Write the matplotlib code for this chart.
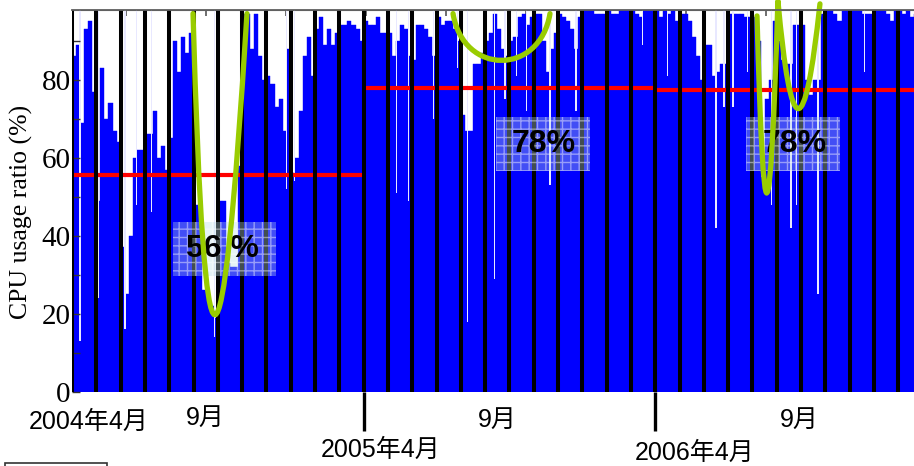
import matplotlib
matplotlib.use('Agg')
import matplotlib.pyplot as plt
import matplotlib.transforms as mtransforms
from matplotlib.path import Path
from matplotlib.patches import PathPatch, Rectangle

# ---------------- data (CPU usage %, six samples per month) ----------------
usage_fy2004 = [
    86, 89, 69, 93, 95, 77,   # 2004-04
    49, 83, 70, 74, 67, 64,   # 05
    37, 25, 40, 60, 62, 62,   # 06
    66, 66, 72, 60, 63, 57,   # 07
    65, 90, 82, 91, 87, 92,   # 08
    48, 48, 26, 25, 22, 19,   # 09
    49, 49, 33, 32, 32, 58,   # 10
    97, 97, 88, 97, 86, 80,   # 11
    81, 79, 73, 75, 67, 88,   # 12
    56, 60, 72, 86, 91, 81,   # 2005-01
    93, 96, 89, 93, 89, 92,   # 02
    94, 94, 95, 94, 93, 90,   # 03
]
usage_fy2005 = [
    95, 94, 94, 96, 92, 92,   # 2005-04
    92, 86, 90, 94, 93, 86,   # 05
    85, 94, 94, 93, 91, 86,   # 06
    96, 94, 95, 95, 93, 90,   # 07
    71, 67, 67, 84, 84, 87,   # 08
    90, 92, 97, 93, 88, 86,   # 09
    90, 91, 96, 97, 94, 96,   # 10
    97, 97, 90, 82, 88, 92,   # 11
    97, 96, 95, 93, 88, 96,   # 12
    98, 98, 98, 97, 97, 97,   # 2006-01
    98, 97, 97, 98, 98, 98,   # 02
    98, 97, 96, 98, 98, 98,   # 03
]
usage_fy2006 = [
    98, 96, 98, 97, 98, 95,   # 2006-04
    97, 97, 95, 91, 86, 80,   # 05
    89, 89, 81, 82, 84, 84,   # 06
    97, 97, 97, 97, 96, 96,   # 07
    96, 90, 55, 75, 80, 95,   # 08
    90, 85, 84, 84, 94, 94,   # 09
    94, 80, 76, 80, 80, 97,   # 10
    98, 98, 97, 95, 98, 98,   # 11
    98, 98, 98, 97, 97, 97,   # 12
    98, 98, 98, 97, 95, 98,   # 2007-01
    98, 97, 98, 96, 97, 97,   # 02
]
# single low days (month position, value)
dip_pos = [0.33, 1.07, 2.18, 2.67, 3.29, 5.88, 8.81, 9.14, 13.37, 13.83,
           14.86, 15.88, 16.26, 17.37, 17.82, 18.31, 18.72, 19.67, 20.74,
           23.46, 24.49, 26.5, 26.83, 27.2, 27.78, 28.77, 29.59, 29.8,
           30.7, 32.6]
dip_val = [13, 24, 16, 48, 46, 14, 52, 54, 51, 49,
           70, 83, 18, 29, 75, 81, 72, 53, 72,
           89, 81, 42, 73, 73, 82, 48, 42, 48,
           25, 82]

period_start = [0, 12, 24]
period_end = [12, 24, 34.65]
period_mean = [55.6, 77.9, 77.4]
period_text = ['56 %', '78%', '78%']

month_labels = ['2004年4月', '9月', '2005年4月', '9月', '2006年4月', '9月']

# ---------------- layout / style ----------------
W, H = 914, 466
SAMPLES = 6
fig = plt.figure(figsize=(W / 100, H / 100), dpi=100)
ax = fig.add_axes([72 / W, 1 - 391.7 / H, 842 / W, 382 / H])
ax.set_xlim(0, 34.65)
ax.set_ylim(0, 98)

usage = usage_fy2004 + usage_fy2005 + usage_fy2006
xpos = [(i + 0.5) / SAMPLES for i in range(len(usage))]
ax.bar(xpos, usage, width=1 / SAMPLES, color='#0000ff', edgecolor='#0000ff',
       linewidth=0.3, zorder=1)
ax.bar(dip_pos, [98 - v for v in dip_val], bottom=dip_val, width=0.045,
       color='#e8e8ff', linewidth=0, zorder=1.5)

# month separators
for m in range(0, 35):
    ax.axvline(m, color='black', lw=2.9, zorder=3)

# period means
for s, e, v in zip(period_start, period_end, period_mean):
    ax.hlines(v, s, e, colors='#ff0000', lw=3.0, zorder=2.5)

# annotation boxes
box_x = [4.16, 17.45, 27.74]
box_y = [29.7, 56.6, 56.6]
box_w = [4.24, 3.87, 3.87]
box_h = [13.9, 13.9, 13.9]
txt_x = [6.20, 19.40, 29.75]
for bx, by, bw, bh, tx, t in zip(box_x, box_y, box_w, box_h, txt_x, period_text):
    ax.add_patch(Rectangle((bx, by), bw, bh, facecolor=(0.72, 0.86, 0.9, 0.36),
                           edgecolor=(1, 1, 1, 0.45), hatch='++', linewidth=0,
                           zorder=4))
    ax.text(tx, by + bh / 2, t, ha='center', va='center', fontsize=23,
            fontweight='bold', family='Liberation Sans', color='black', zorder=5)

# green free-hand curves (Bezier control points in data coords)
green = '#99cc00'
curves = [
    ([(4.98, 97), (5.67, -57.6), (7.2, 97)], [Path.MOVETO, Path.CURVE3, Path.CURVE3]),
    ([(15.68, 97), (16.1, 81), (19.25, 81), (19.67, 97)],
     [Path.MOVETO, Path.CURVE4, Path.CURVE4, Path.CURVE4]),
    ([(28.19, 96.4), (28.58, 3.6), (29.05, 100.3), (29.85, 45.3), (30.78, 99.5)],
     [Path.MOVETO, Path.CURVE3, Path.CURVE3, Path.CURVE3, Path.CURVE3]),
]
for verts, codes in curves:
    ax.add_patch(PathPatch(Path(verts, codes), facecolor='none', edgecolor=green,
                           lw=3.8, zorder=6, clip_on=False, capstyle='round',
                           joinstyle='round'))

# axes styling
for side in ['left', 'right', 'bottom']:
    ax.spines[side].set_visible(False)
ax.spines['top'].set_color('#606060')
ax.spines['top'].set_linewidth(1.3)
ax.spines['top'].set_zorder(7)

ax.set_yticks([0, 20, 40, 60, 80])
ax.set_yticks([10, 30, 50, 70, 90], minor=True)
ax.tick_params(axis='y', which='both', direction='in', length=6, width=1,
               color='#333333', pad=1)
ax.tick_params(axis='y', labelsize=21)
for lab in ax.get_yticklabels():
    lab.set_family('Liberation Serif')
ax.set_ylabel('CPU usage ratio (%)', family='Liberation Serif', fontsize=18.5)
ax.yaxis.set_label_coords(-0.046, 0.47)

ax.set_xticks([12, 24])
ax.tick_params(axis='x', direction='out', length=28, width=2.4, color='black',
               labelbottom=False)

top_ticks = [2.22, 5.51, 8.80, 12.09, 15.38, 18.67, 21.96, 25.25, 28.54, 31.83]
sec = ax.secondary_xaxis('top')
sec.set_xticks(top_ticks)
sec.tick_params(direction='in', length=4, width=1.2, color='#555555',
                labeltop=False)
sec.spines['top'].set_color('#606060')

# month labels under the axis
lab_x = [0.70, 5.47, 12.72, 17.49, 25.64, 29.92]
lab_y = [422, 418, 450, 420, 453, 420]
trans = mtransforms.blended_transform_factory(ax.transData, fig.transFigure)
for x, y, t in zip(lab_x, lab_y, month_labels):
    ax.text(x, 1 - y / H, t, transform=trans, ha='center', va='center',
            fontsize=18, family=['Liberation Sans', 'Noto Sans CJK JP'],
            clip_on=False)

# partial frame at bottom-left
fig.patches.append(Rectangle((5 / W, -0.02), 102 / W, 0.02 + 3 / H,
                             transform=fig.transFigure, fill=False,
                             edgecolor='#333333', lw=1.2))

fig.savefig('out.png', dpi=100, facecolor='white')
